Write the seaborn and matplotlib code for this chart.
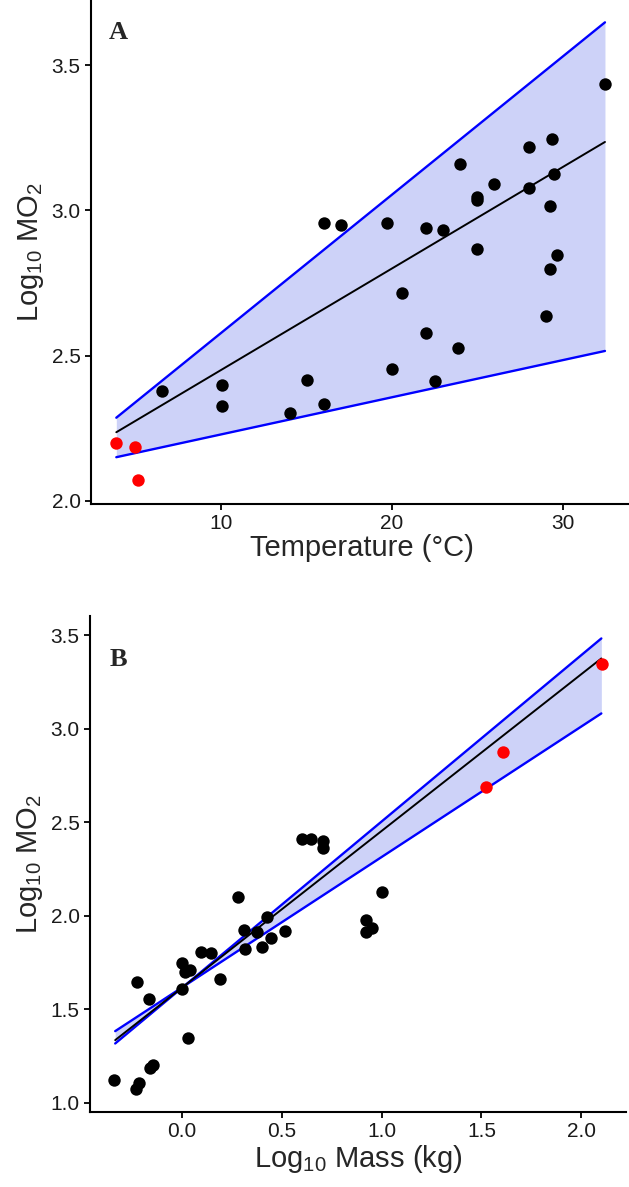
import numpy as np
import matplotlib
matplotlib.use("Agg")
import matplotlib.pyplot as plt
import seaborn as sns

# Panel A: temperature vs log10 MO2
temp_black = [6.53, 10.05, 10.05, 14.03, 15.02, 16.03, 16.03, 17.0, 32.46, 29.37,
              28.0, 23.99, 29.46, 25.98, 28.0, 24.99, 24.99, 29.27, 19.71, 22.01,
              23.0, 24.99, 29.66, 29.27, 20.61, 29.0, 22.01, 23.88, 19.98, 22.51]
mo2_black_a = [2.378, 2.399, 2.328, 2.301, 2.415, 2.333, 2.957, 2.951, 3.436, 3.245,
               3.22, 3.16, 3.126, 3.09, 3.077, 3.045, 3.037, 3.014, 2.957, 2.938,
               2.931, 2.867, 2.846, 2.798, 2.715, 2.637, 2.577, 2.526, 2.454, 2.413]
temp_red = [3.86, 4.93, 5.13]
mo2_red_a = [2.198, 2.184, 2.071]

fit_x_a = [3.86, 32.46]
fit_mid_a = [2.236, 3.236]
fit_hi_a = [2.286, 3.648]
fit_lo_a = [2.150, 2.516]

# Panel B: log10 mass vs log10 MO2
mass_black = [-0.337, -0.23, -0.213, -0.158, -0.142, 0.033, -0.225, -0.163, 0.0, 0.0,
              0.017, 0.042, 0.097, 0.145, 0.192, 0.28, 0.313, 0.317, 0.375, 0.40,
              0.425, 0.447, 0.517, 0.603, 0.645, 0.705, 0.705, 1.003, 0.92, 0.954, 0.92]
mo2_black_b = [1.121, 1.073, 1.107, 1.187, 1.201, 1.349, 1.647, 1.556, 1.611, 1.750,
               1.70, 1.709, 1.807, 1.802, 1.661, 2.102, 1.923, 1.822, 1.914, 1.834,
               1.995, 1.879, 1.918, 2.41, 2.408, 2.399, 2.365, 2.128, 1.977, 1.932, 1.911]
mass_red = [1.523, 1.609, 2.101]
mo2_red_b = [2.686, 2.877, 3.344]

fit_x_b = [-0.333, 2.1]
fit_mid_b = [1.335, 3.376]
fit_line1_b = [1.317, 3.483]
fit_line2_b = [1.383, 3.082]

sns.set_style("ticks")
plt.rcParams['font.family'] = ['Liberation Sans', 'DejaVu Sans']
plt.rcParams['mathtext.fontset'] = 'custom'
plt.rcParams['mathtext.rm'] = 'Liberation Sans'
plt.rcParams['mathtext.it'] = 'Liberation Sans:italic'

fig = plt.figure(figsize=(6.29, 11.87), dpi=100)
ax_a = fig.add_axes([0.1447, 0.5757, 0.86, 0.4243])
ax_b = fig.add_axes([0.1431, 0.0634, 0.852, 0.4178])

fill_col = '#cdd2f8'


def draw_panel(ax, fx, mid, l1, l2, xb, yb, xr, yr):
    ax.fill_between(fx, l1, l2, color=fill_col, linewidth=0)
    sns.lineplot(x=fx, y=l1, ax=ax, color='#0000ff', linewidth=1.7)
    sns.lineplot(x=fx, y=l2, ax=ax, color='#0000ff', linewidth=1.7)
    sns.lineplot(x=fx, y=mid, ax=ax, color='black', linewidth=1.4)
    sns.scatterplot(x=xb, y=yb, ax=ax, color='black', s=80, linewidth=0, zorder=5)
    sns.scatterplot(x=xr, y=yr, ax=ax, color='#ff0000', s=80, linewidth=0, zorder=5)
    for side in ['top', 'right']:
        ax.spines[side].set_visible(False)
    for side in ['left', 'bottom']:
        ax.spines[side].set_linewidth(1.5)
        ax.spines[side].set_color('black')
    ax.tick_params(axis='both', length=4, width=1.3, color='black',
                   labelsize=15, labelcolor='#1a1a1a')
    ax.set_ylabel('Log$_{10}$ MO$_2$', fontsize=21)


draw_panel(ax_a, fit_x_a, fit_mid_a, fit_hi_a, fit_lo_a,
           temp_black, mo2_black_a, temp_red, mo2_red_a)
ax_a.set_xlim(2.38, 34.04)
ax_a.set_ylim(1.99, 3.725)
ax_a.set_xticks([10, 20, 30])
ax_a.set_yticks([2.0, 2.5, 3.0, 3.5])
ax_a.set_yticklabels(['2.0', '2.5', '3.0', '3.5'])
ax_a.set_xlabel('Temperature (°C)', fontsize=21, labelpad=1)
ax_a.text(0.05, 0.936, 'A', transform=ax_a.transAxes, fontsize=19,
          fontweight='bold', family='Liberation Serif', ha='center', va='center')

draw_panel(ax_b, fit_x_b, fit_mid_b, fit_line1_b, fit_line2_b,
           mass_black, mo2_black_b, mass_red, mo2_red_b)
ax_b.set_xlim(-0.459, 2.223)
ax_b.set_ylim(0.952, 3.604)
ax_b.set_xticks([0.0, 0.5, 1.0, 1.5, 2.0])
ax_b.set_xticklabels(['0.0', '0.5', '1.0', '1.5', '2.0'])
ax_b.set_yticks([1.0, 1.5, 2.0, 2.5, 3.0, 3.5])
ax_b.set_yticklabels(['1.0', '1.5', '2.0', '2.5', '3.0', '3.5'])
ax_b.set_xlabel('Log$_{10}$ Mass (kg)', fontsize=21, labelpad=1)
ax_b.text(0.053, 0.911, 'B', transform=ax_b.transAxes, fontsize=19,
          fontweight='bold', family='Liberation Serif', ha='center', va='center')

fig.savefig('out.png', dpi=100)
